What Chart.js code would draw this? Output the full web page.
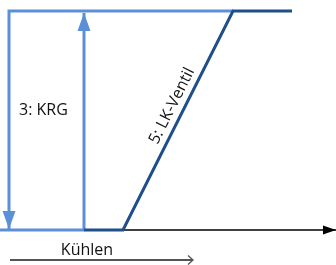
<!DOCTYPE html>
<html>
<head>
<meta charset="utf-8">
<script src="https://cdn.jsdelivr.net/npm/chart.js@4/dist/chart.umd.min.js"></script>
<style>
  html, body { margin: 0; padding: 0; background: #fff; }
  #chart { display: block; }
</style>
</head>
<body>
<canvas id="chart" width="336" height="265"></canvas>
<script>
// diagram points (x to the right, y downwards, in picture units)
const lkVentil = [{x: 84, y: 230}, {x: 123, y: 230}, {x: 233, y: 11}, {x: 292, y: 11}];
const krgBottom = [{x: 0, y: 230}, {x: 84, y: 230}];
const krgUp = [{x: 84, y: 230}, {x: 84, y: 13}];
const krgDown = [{x: 233, y: 11}, {x: 9, y: 11}, {x: 9, y: 229}];
const timeAxis = [{x: 0, y: 230}, {x: 336, y: 230}];
const kuehlenArrow = [{x: 10, y: 260}, {x: 193, y: 260}];

// texts
const labelTexts = ['3: KRG', '5: LK-Ventil', 'Kühlen'];
const labelX = [19, 172, 87];
const labelY = [110, 106, 250];

const lightBlue = '#5b8fd8';
const darkBlue = '#1f4e8c';

const arrowHeads = {
    id: 'arrowHeads',
    afterDatasetsDraw(chart) {
        const ctx = chart.ctx;
        chart.data.datasets.forEach((ds, i) => {
            if (!ds.arrow) return;
            const pts = chart.getDatasetMeta(i).data;
            const a = pts[pts.length - 2], b = pts[pts.length - 1];
            const ang = Math.atan2(b.y - a.y, b.x - a.x);
            const len = ds.arrow.len, half = ds.arrow.half;
            ctx.save();
            ctx.translate(b.x, b.y);
            ctx.rotate(ang);
            ctx.beginPath();
            ctx.moveTo(-len, -half);
            ctx.lineTo(0, 0);
            ctx.lineTo(-len, half);
            if (ds.arrow.open) {
                ctx.strokeStyle = ds.borderColor;
                ctx.lineWidth = 1.3;
                ctx.stroke();
            } else {
                ctx.closePath();
                ctx.fillStyle = ds.borderColor;
                ctx.fill();
            }
            ctx.restore();
        });
    }
};

const labels = {
    id: 'labels',
    afterDraw(chart) {
        const ctx = chart.ctx;
        const xs = chart.scales.x, ys = chart.scales.y;
        ctx.save();
        ctx.fillStyle = '#111111';
        ctx.font = '16px "Open Sans"';
        ctx.textBaseline = 'middle';

        // 3: KRG
        ctx.textAlign = 'left';
        ctx.fillText(labelTexts[0], xs.getPixelForValue(labelX[0]), ys.getPixelForValue(labelY[0]));

        // 5: LK-Ventil, along the diagonal
        const p0 = lkVentil[1], p1 = lkVentil[2];
        const ang = Math.atan2(ys.getPixelForValue(p1.y) - ys.getPixelForValue(p0.y),
                               xs.getPixelForValue(p1.x) - xs.getPixelForValue(p0.x));
        ctx.save();
        ctx.translate(xs.getPixelForValue(labelX[1]), ys.getPixelForValue(labelY[1]));
        ctx.rotate(ang);
        ctx.textAlign = 'center';
        ctx.fillText(labelTexts[1], 0, 0);
        ctx.restore();

        // Kühlen
        ctx.textAlign = 'center';
        ctx.fillText(labelTexts[2], xs.getPixelForValue(labelX[2]), ys.getPixelForValue(labelY[2]));
        ctx.restore();
    }
};

const line = (data, color, width, extra) => Object.assign({
    data: data,
    showLine: true,
    borderColor: color,
    backgroundColor: color,
    borderWidth: width,
    pointRadius: 0,
    tension: 0,
    fill: false,
    borderCapStyle: 'butt',
    borderJoinStyle: 'miter'
}, extra || {});

new Chart(document.getElementById('chart'), {
    type: 'scatter',
    data: {
        datasets: [
            line(lkVentil, darkBlue, 3, {order: 0}),
            line(krgUp, lightBlue, 3, {order: 1, arrow: {len: 18, half: 6.5}}),
            line(krgDown, lightBlue, 3, {order: 1, arrow: {len: 18, half: 6.5}}),
            line(krgBottom, lightBlue, 3, {order: 1}),
            line(timeAxis, '#000000', 1.3, {order: 2, arrow: {len: 13, half: 4.5}}),
            line(kuehlenArrow, '#555555', 2, {order: 2, arrow: {len: 5, half: 4.5, open: true}})
        ]
    },
    options: {
        responsive: false,
        animation: false,
        layout: {padding: 0, autoPadding: false},
        plugins: {legend: {display: false}, tooltip: {enabled: false}},
        scales: {
            x: {type: 'linear', min: 0, max: 336, display: false},
            y: {type: 'linear', min: 0, max: 265, reverse: true, display: false}
        }
    },
    plugins: [arrowHeads, labels]
});
</script>
</body>
</html>
